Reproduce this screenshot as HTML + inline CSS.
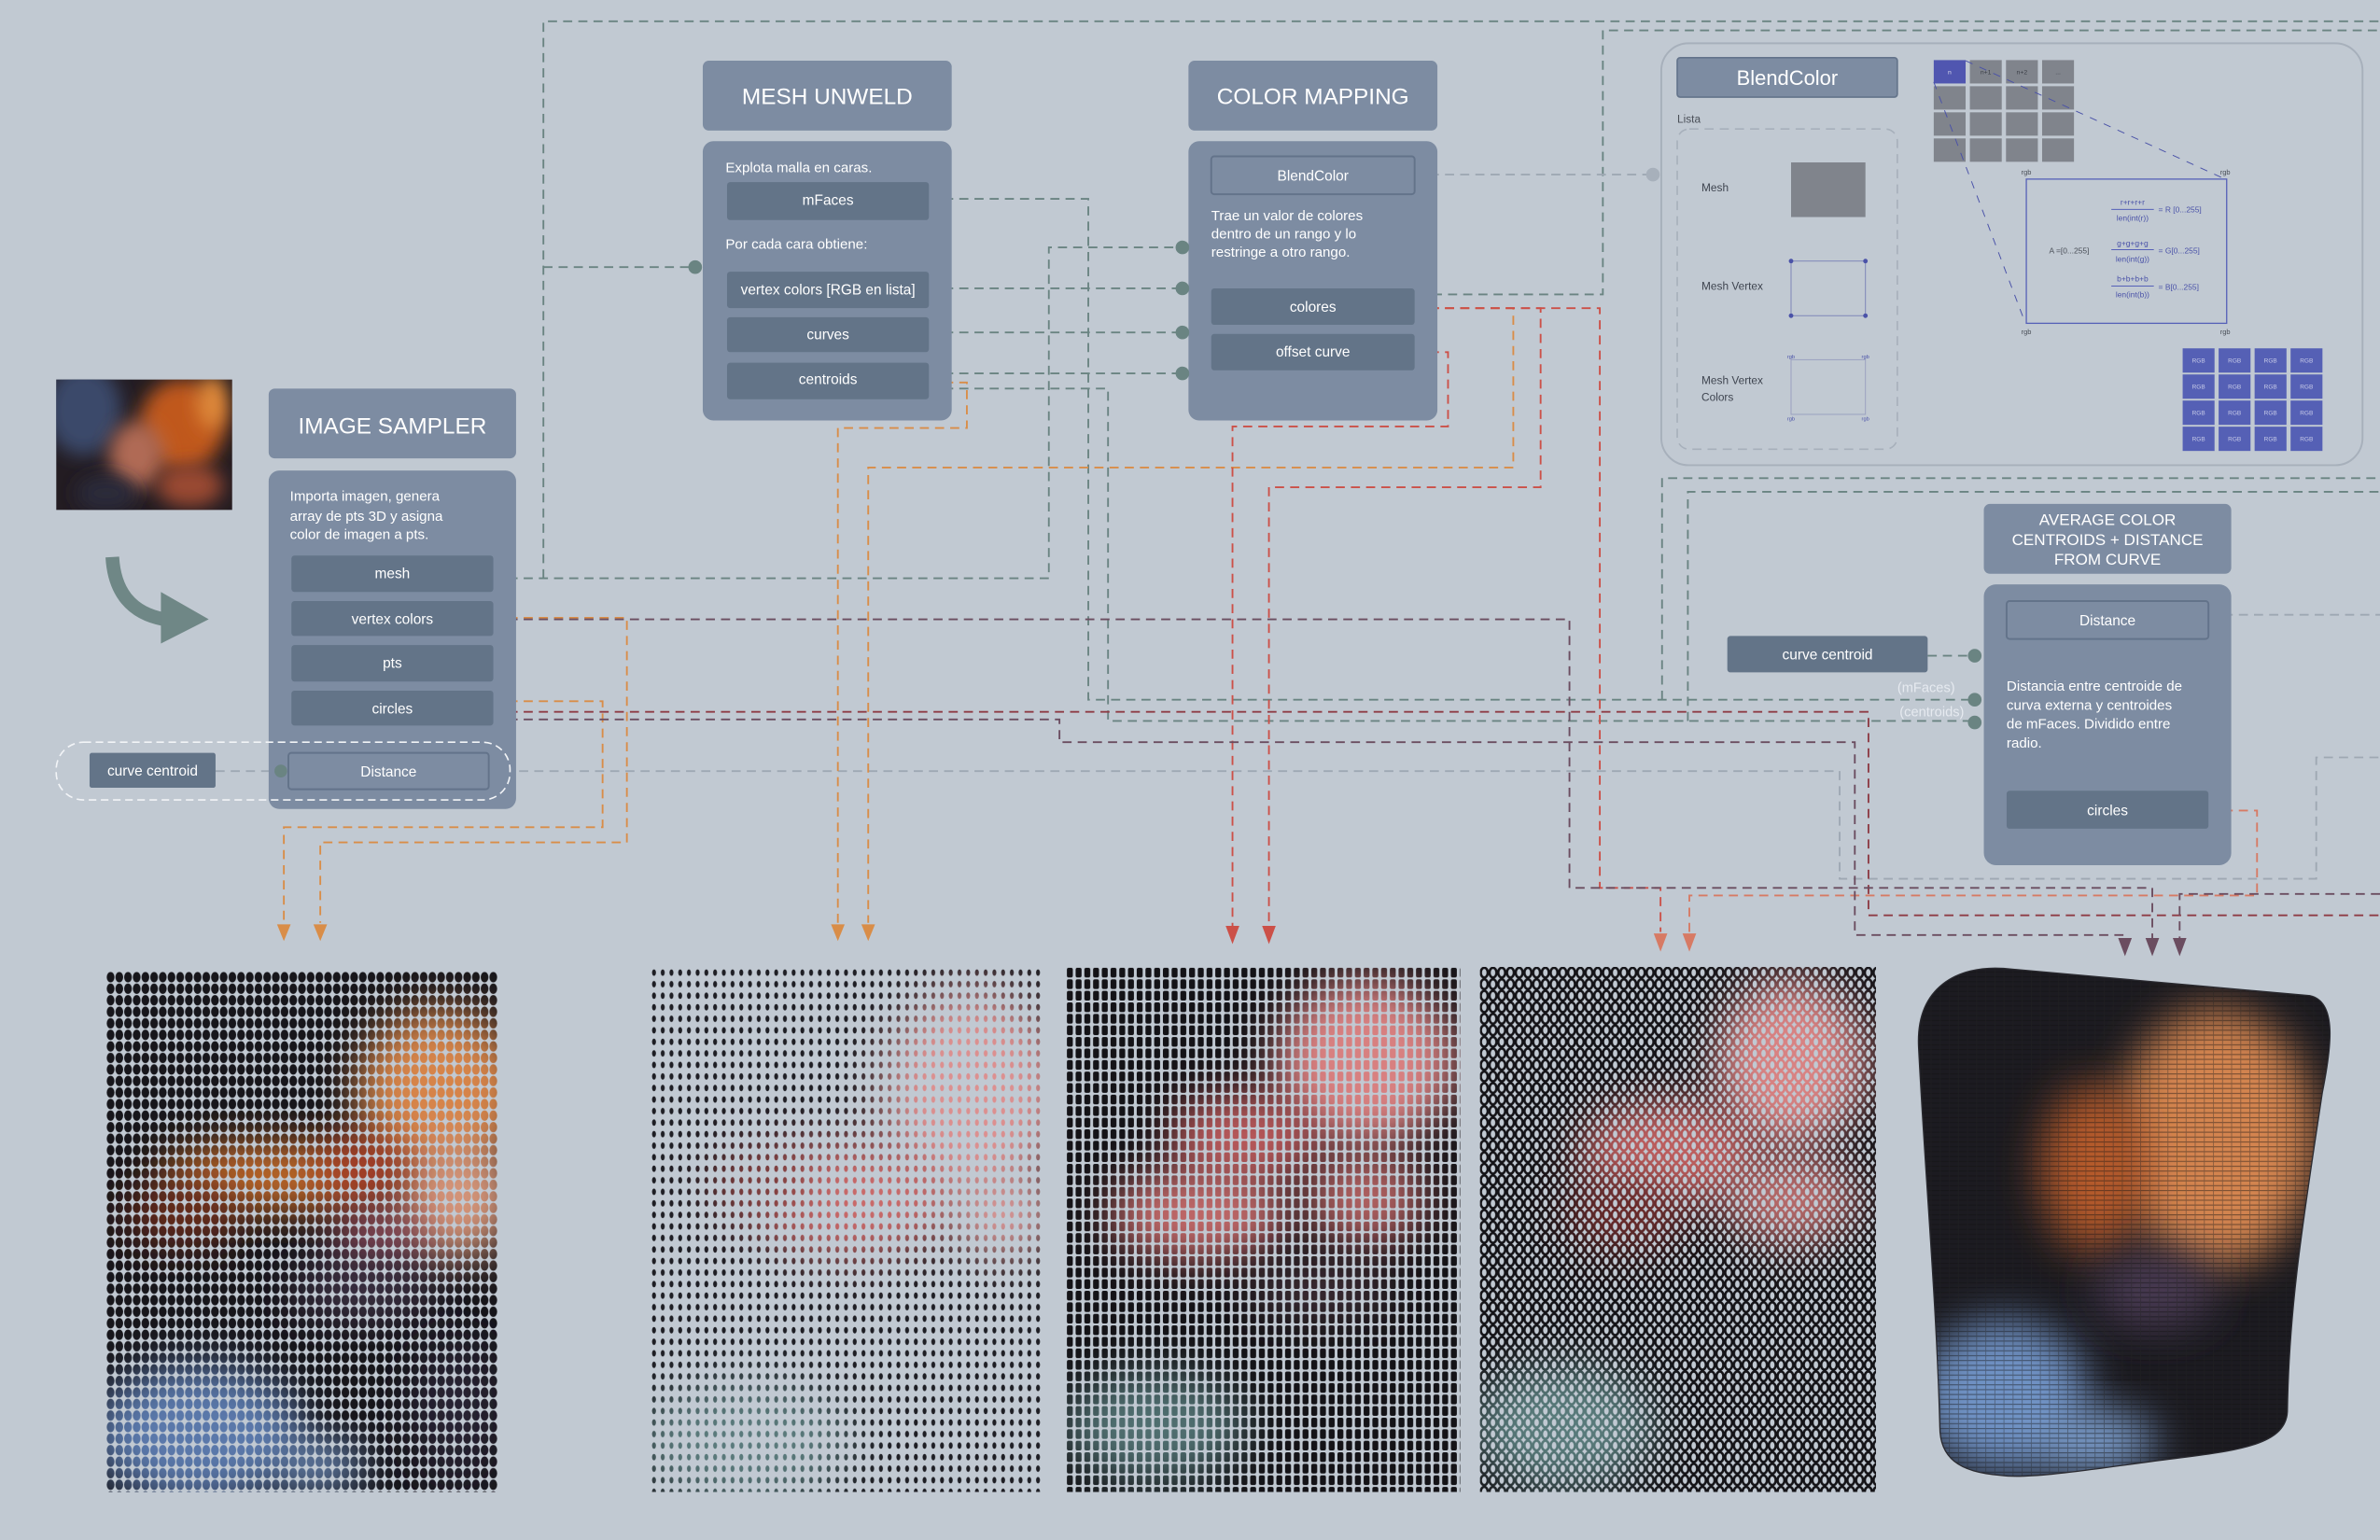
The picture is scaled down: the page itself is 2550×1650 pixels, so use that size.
<!DOCTYPE html>
<html><head><meta charset="utf-8"><style>
html,body{margin:0;padding:0;background:#c1c9d2;}
svg{display:block;}
text{font-family:"Liberation Sans",sans-serif;}
</style></head><body>
<svg width="2550" height="1650" viewBox="0 0 1568 1014.6" xmlns="http://www.w3.org/2000/svg">
<defs>
<filter id="b6" x="-50%" y="-50%" width="200%" height="200%"><feGaussianBlur stdDeviation="6"/></filter>
<filter id="b14" x="-50%" y="-50%" width="200%" height="200%"><feGaussianBlur stdDeviation="14"/></filter>
<pattern id="p1" patternUnits="userSpaceOnUse" x="70" y="640" width="5.73" height="7.6"><ellipse cx="2.86" cy="3.8" rx="2.55" ry="3.4" fill="#fff"/></pattern>
<pattern id="p2" patternUnits="userSpaceOnUse" x="428" y="637" width="5.75" height="7.6"><ellipse cx="2.87" cy="3.8" rx="1.3" ry="2.1" fill="#fff"/></pattern>
<pattern id="p3" patternUnits="userSpaceOnUse" x="702" y="637" width="5.75" height="7.6"><rect x="0.9" y="0.6" width="3.9" height="6.4" rx="1.2" fill="#fff"/></pattern>
<pattern id="p4" patternUnits="userSpaceOnUse" x="975" y="637" width="5.75" height="7.6"><ellipse cx="2.87" cy="3.8" rx="2.3" ry="3.2" fill="none" stroke="#fff" stroke-width="1.6"/></pattern>
<pattern id="p5" patternUnits="userSpaceOnUse" x="0" y="0" width="6" height="3.2"><rect x="0" y="0" width="6" height="0.7" fill="#111"/><rect x="0" y="0" width="0.5" height="3.2" fill="#222"/></pattern>
<mask id="m1" maskUnits="userSpaceOnUse" x="0" y="0" width="1568" height="1015"><rect x="70" y="640" width="258" height="343" fill="url(#p1)"/></mask>
<mask id="m2" maskUnits="userSpaceOnUse" x="0" y="0" width="1568" height="1015"><rect x="428" y="637" width="259" height="346" fill="url(#p2)"/></mask>
<mask id="m3" maskUnits="userSpaceOnUse" x="0" y="0" width="1568" height="1015"><rect x="702" y="637" width="260" height="346" fill="url(#p3)"/></mask>
<mask id="m4" maskUnits="userSpaceOnUse" x="0" y="0" width="1568" height="1015"><rect x="975" y="637" width="261" height="346" fill="url(#p4)"/></mask>
<clipPath id="c5"><path d="M1264,690 C1262,650 1290,636 1320,638 C1400,645 1470,652 1522,656 C1540,660 1536,690 1530,720 C1518,800 1508,860 1507,930 C1506,950 1480,955 1440,960 C1390,966 1340,975 1318,972 C1290,970 1278,960 1278,940 C1276,860 1268,770 1264,690 Z"/></clipPath>
<clipPath id="cph"><rect x="37" y="250" width="116" height="86"/></clipPath>
</defs>

<!-- CONNECTORS -->
<g fill="none" stroke-width="1.15" stroke-dasharray="6 4">
<g stroke="#6a8482">
<path d="M358,176 H458"/>
<path d="M358,381 V14 H1568"/>
<path d="M325,381 H691 V163 H779"/>
<path d="M612,131 H717 V461 H1301"/>
<path d="M1095,461 V315 H1568"/>
<path d="M612,190 H779"/>
<path d="M612,219 H779"/>
<path d="M612,246 H779"/>
<path d="M612,256 H730 V475 H1301"/>
<path d="M1112,475 V324 H1568"/>
<path d="M934,194 H1056 V20 H1568"/>
<path d="M1270,432 H1301"/>
</g>
<g stroke="#9ea8b3">
<path d="M932,115 H1089"/>
<path d="M142,508 H190"/>
<path d="M322,508 H1212 V579 H1526 V499 H1568"/>
<path d="M1455,405 H1568"/>
</g>
<g stroke="#d98d48">
<path d="M612,252 H637 V282 H552 V608"/>
<path d="M932,203 H997 V308 H572 V608"/>
<path d="M325,407 H413 V555 H211 V608"/>
<path d="M325,462 H397 V545 H187 V608"/>
</g>
<g stroke="#cc5048">
<path d="M932,203 H1015 V321 H836 V610"/>
<path d="M932,232 H954 V281 H812 V610"/>
<path d="M932,203 H1054 V585 H1094 V614"/>
</g>
<g stroke="#d77a64">
<path d="M1455,534 H1487 V590 H1113 V614"/>
</g>
<g stroke="#8e3c45">
<path d="M325,469 H1231 V603 H1568"/>
</g>
<g stroke="#6b4d60">
<path d="M325,408 H1034 V585 H1418 V618"/>
<path d="M325,474 H698 V489 H1222 V616 H1400 V618"/>
<path d="M1568,589 H1436 V618"/>
</g>
</g>
<!-- arrowheads -->
<g fill="#d98d48"><polygon points="182.5,609 191.5,609 187,620"/><polygon points="206.5,609 215.5,609 211,620"/><polygon points="547.5,609 556.5,609 552,620"/><polygon points="567.5,609 576.5,609 572,620"/></g>
<g fill="#cc5048"><polygon points="807.5,610 816.5,610 812,622"/><polygon points="831.5,610 840.5,610 836,622"/></g>
<g fill="#d77a64"><polygon points="1089.5,615 1098.5,615 1094,627"/><polygon points="1108.5,615 1117.5,615 1113,627"/></g>
<g fill="#6b4d60"><polygon points="1395.5,618 1404.5,618 1400,630"/><polygon points="1413.5,618 1422.5,618 1418,630"/><polygon points="1431.5,618 1440.5,618 1436,630"/></g>

<!-- PHOTO -->
<g clip-path="url(#cph)">
<rect x="37" y="250" width="116" height="86" fill="#231c22"/>
<ellipse cx="55" cy="270" rx="25" ry="30" fill="#3a4a6a" filter="url(#b6)"/>
<ellipse cx="120" cy="280" rx="28" ry="30" fill="#c0581e" filter="url(#b6)"/>
<ellipse cx="90" cy="300" rx="18" ry="22" fill="#b06a55" filter="url(#b6)"/>
<ellipse cx="125" cy="320" rx="22" ry="14" fill="#9a4a30" filter="url(#b6)"/>
<ellipse cx="70" cy="325" rx="20" ry="12" fill="#2a2a3a" filter="url(#b6)"/>
<ellipse cx="140" cy="265" rx="10" ry="18" fill="#e08a3a" filter="url(#b6)"/>
</g>
<!-- Curved arrow -->
<path d="M74,367 Q76,402 108,408" fill="none" stroke="#6f8786" stroke-width="9"/>
<polygon points="106,390 137.5,408 106,424" fill="#6f8786"/>

<!-- IMAGE SAMPLER -->
<rect x="177" y="256" width="163" height="46" rx="4" fill="#7d8ca2"/>
<text x="258.5" y="285.5" font-size="15" fill="#fff" text-anchor="middle">IMAGE SAMPLER</text>
<rect x="177" y="310" width="163" height="223" rx="7" fill="#7d8ca2"/>
<g font-size="9.3" fill="#fff"><text x="191" y="330">Importa imagen, genera</text><text x="191" y="343">array de pts 3D y asigna</text><text x="191" y="355">color de imagen a pts.</text></g>
<g fill="#637488"><rect x="192" y="366" width="133" height="24" rx="2"/><rect x="192" y="396" width="133" height="23" rx="2"/><rect x="192" y="425" width="133" height="24" rx="2"/><rect x="192" y="455" width="133" height="23" rx="2"/></g>
<g font-size="9.5" fill="#fff" text-anchor="middle"><text x="258.5" y="381">mesh</text><text x="258.5" y="411">vertex colors</text><text x="258.5" y="440">pts</text><text x="258.5" y="470">circles</text></g>
<rect x="190" y="496" width="132" height="24" rx="2" fill="#7d8ca2" stroke="#63738a" stroke-width="1.2"/>
<text x="256" y="511.5" font-size="9.5" fill="#fff" text-anchor="middle">Distance</text>
<rect x="37" y="489" width="299" height="38" rx="18" fill="none" stroke="#f2f4f7" stroke-width="1" stroke-dasharray="5 3"/>
<rect x="59" y="496" width="83" height="23" rx="1.5" fill="#637488"/>
<text x="100.5" y="511" font-size="9.5" fill="#fff" text-anchor="middle">curve centroid</text>
<circle cx="185" cy="508" r="4.2" fill="#6a8482"/>

<!-- MESH UNWELD -->
<rect x="463" y="40" width="164" height="46" rx="4" fill="#7d8ca2"/>
<text x="545" y="68.5" font-size="15" fill="#fff" text-anchor="middle">MESH UNWELD</text>
<rect x="463" y="93" width="164" height="184" rx="7" fill="#7d8ca2"/>
<text x="478" y="113.5" font-size="9.3" fill="#fff">Explota malla en caras.</text>
<text x="478" y="164" font-size="9.3" fill="#fff">Por cada cara obtiene:</text>
<g fill="#637488"><rect x="479" y="120" width="133" height="25" rx="2"/><rect x="479" y="179" width="133" height="24" rx="2"/><rect x="479" y="209" width="133" height="23" rx="2"/><rect x="479" y="239" width="133" height="24" rx="2"/></g>
<g font-size="9.5" fill="#fff" text-anchor="middle"><text x="545.5" y="135">mFaces</text><text x="545.5" y="194">vertex colors [RGB en lista]</text><text x="545.5" y="223.5">curves</text><text x="545.5" y="253">centroids</text></g>
<circle cx="458" cy="176" r="4.5" fill="#6a8482"/>

<!-- COLOR MAPPING -->
<rect x="783" y="40" width="164" height="46" rx="4" fill="#7d8ca2"/>
<text x="865" y="68.5" font-size="15" fill="#fff" text-anchor="middle">COLOR MAPPING</text>
<rect x="783" y="93" width="164" height="184" rx="7" fill="#7d8ca2"/>
<rect x="798" y="103" width="134" height="25" rx="2" fill="#7d8ca2" stroke="#63738a" stroke-width="1.2"/>
<text x="865" y="119" font-size="9.5" fill="#fff" text-anchor="middle">BlendColor</text>
<g font-size="9.3" fill="#fff"><text x="798" y="145">Trae un valor de colores</text><text x="798" y="157">dentro de un rango y lo</text><text x="798" y="169">restringe a otro rango.</text></g>
<g fill="#637488"><rect x="798" y="190" width="134" height="24" rx="2"/><rect x="798" y="220" width="134" height="24" rx="2"/></g>
<g font-size="9.5" fill="#fff" text-anchor="middle"><text x="865" y="205.5">colores</text><text x="865" y="235">offset curve</text></g>
<g fill="#6a8482"><circle cx="779" cy="163" r="4.5"/><circle cx="779" cy="190" r="4.5"/><circle cx="779" cy="219" r="4.5"/><circle cx="779" cy="246" r="4.5"/></g>

<!-- BLENDCOLOR PANEL -->
<rect x="1094.5" y="28.5" width="462" height="278" rx="18" fill="none" stroke="#a7b0bb" stroke-width="1.2"/>
<circle cx="1089" cy="115" r="4.5" fill="#a7b0bb"/>
<rect x="1105" y="38" width="145" height="26" rx="2" fill="#7d8ca2" stroke="#63738a" stroke-width="1"/>
<text x="1177.5" y="56" font-size="13.5" fill="#fff" text-anchor="middle">BlendColor</text>
<text x="1105" y="81" font-size="7.3" fill="#4a4f58">Lista</text>
<rect x="1105" y="85" width="145" height="211" rx="8" fill="none" stroke="#a7b0bb" stroke-width="1" stroke-dasharray="6 4"/>
<g font-size="7.3" fill="#3f4550"><text x="1121" y="126">Mesh</text><text x="1121" y="191">Mesh Vertex</text><text x="1121" y="253">Mesh Vertex</text><text x="1121" y="264">Colors</text></g>
<rect x="1180" y="107" width="49" height="36" fill="#80848c"/>
<rect x="1180" y="172" width="49" height="36" fill="none" stroke="#7d85b8" stroke-width="0.6"/>
<g fill="#4a52a8"><circle cx="1180" cy="172" r="1.5"/><circle cx="1229" cy="172" r="1.5"/><circle cx="1180" cy="208" r="1.5"/><circle cx="1229" cy="208" r="1.5"/></g>
<rect x="1180" y="237" width="49" height="36" fill="none" stroke="#9aa0c0" stroke-width="0.6"/>
<g font-size="3.5" fill="#4a52a8" text-anchor="middle"><text x="1180" y="236">rgb</text><text x="1229" y="236">rgb</text><text x="1180" y="277">rgb</text><text x="1229" y="277">rgb</text></g>
<!-- grid -->
<g fill="#80848c">
<rect x="1274" y="39.6" width="21" height="15.4" fill="#5056b0"/><rect x="1297.8" y="39.6" width="21" height="15.4"/><rect x="1321.6" y="39.6" width="21" height="15.4"/><rect x="1345.4" y="39.6" width="21" height="15.4"/>
<rect x="1274" y="56.8" width="21" height="15.4"/><rect x="1297.8" y="56.8" width="21" height="15.4"/><rect x="1321.6" y="56.8" width="21" height="15.4"/><rect x="1345.4" y="56.8" width="21" height="15.4"/>
<rect x="1274" y="74" width="21" height="15.4"/><rect x="1297.8" y="74" width="21" height="15.4"/><rect x="1321.6" y="74" width="21" height="15.4"/><rect x="1345.4" y="74" width="21" height="15.4"/>
<rect x="1274" y="91.2" width="21" height="15.4"/><rect x="1297.8" y="91.2" width="21" height="15.4"/><rect x="1321.6" y="91.2" width="21" height="15.4"/><rect x="1345.4" y="91.2" width="21" height="15.4"/>
</g>
<g font-size="4.2" text-anchor="middle" fill="#3a3e46"><text x="1284.5" y="49" fill="#dde">n</text><text x="1308.3" y="49">n+1</text><text x="1332.1" y="49">n+2</text><text x="1355.9" y="49">...</text></g>
<g fill="none" stroke="#4a52a8" stroke-width="0.6" stroke-dasharray="5 5"><path d="M1295,40 L1466,118"/><path d="M1274,54 L1334,212"/></g>
<rect x="1335" y="118" width="132" height="95" fill="none" stroke="#5560b8" stroke-width="0.8"/>
<g font-size="4.6" fill="#4a4f58" text-anchor="middle"><text x="1335" y="115">rgb</text><text x="1466" y="115">rgb</text><text x="1335" y="220">rgb</text><text x="1466" y="220">rgb</text></g>
<g font-size="5.2" fill="#4a52a8">
<text x="1405" y="135" text-anchor="middle">r+r+r+r</text><line x1="1391" y1="138" x2="1419" y2="138" stroke="#5560b8" stroke-width="0.6"/><text x="1405" y="145.5" text-anchor="middle">len(int(r))</text><text x="1422" y="140">=  R [0...255]</text>
<text x="1405" y="162" text-anchor="middle">g+g+g+g</text><line x1="1391" y1="164.5" x2="1419" y2="164.5" stroke="#5560b8" stroke-width="0.6"/><text x="1405" y="172.5" text-anchor="middle">len(int(g))</text><text x="1422" y="167">=  G[0...255]</text>
<text x="1405" y="185.5" text-anchor="middle">b+b+b+b</text><line x1="1391" y1="188.5" x2="1419" y2="188.5" stroke="#5560b8" stroke-width="0.6"/><text x="1405" y="196" text-anchor="middle">len(int(b))</text><text x="1422" y="191">=  B[0...255]</text>
</g>
<text x="1350" y="167" font-size="5.2" fill="#4a4f58">A =[0...255]</text>
<!-- RGB grid -->
<g fill="#5560b5">
<rect x="1438" y="229.5" width="21" height="16"/><rect x="1461.7" y="229.5" width="21" height="16"/><rect x="1485.4" y="229.5" width="21" height="16"/><rect x="1509.1" y="229.5" width="21" height="16"/>
<rect x="1438" y="246.7" width="21" height="16"/><rect x="1461.7" y="246.7" width="21" height="16"/><rect x="1485.4" y="246.7" width="21" height="16"/><rect x="1509.1" y="246.7" width="21" height="16"/>
<rect x="1438" y="263.9" width="21" height="16"/><rect x="1461.7" y="263.9" width="21" height="16"/><rect x="1485.4" y="263.9" width="21" height="16"/><rect x="1509.1" y="263.9" width="21" height="16"/>
<rect x="1438" y="281.1" width="21" height="16"/><rect x="1461.7" y="281.1" width="21" height="16"/><rect x="1485.4" y="281.1" width="21" height="16"/><rect x="1509.1" y="281.1" width="21" height="16"/>
</g>
<g font-size="4" fill="#c8cbe8" text-anchor="middle">
<text x="1448.5" y="239">RGB</text><text x="1472.2" y="239">RGB</text><text x="1495.9" y="239">RGB</text><text x="1519.6" y="239">RGB</text>
<text x="1448.5" y="256.2">RGB</text><text x="1472.2" y="256.2">RGB</text><text x="1495.9" y="256.2">RGB</text><text x="1519.6" y="256.2">RGB</text>
<text x="1448.5" y="273.4">RGB</text><text x="1472.2" y="273.4">RGB</text><text x="1495.9" y="273.4">RGB</text><text x="1519.6" y="273.4">RGB</text>
<text x="1448.5" y="290.6">RGB</text><text x="1472.2" y="290.6">RGB</text><text x="1495.9" y="290.6">RGB</text><text x="1519.6" y="290.6">RGB</text>
</g>

<!-- AVERAGE COLOR -->
<rect x="1307" y="332" width="163" height="46" rx="4" fill="#7d8ca2"/>
<g font-size="10.5" fill="#fff" text-anchor="middle"><text x="1388.5" y="346">AVERAGE COLOR</text><text x="1388.5" y="359">CENTROIDS  + DISTANCE</text><text x="1388.5" y="372">FROM CURVE</text></g>
<rect x="1307" y="385" width="163" height="185" rx="8" fill="#7d8ca2"/>
<rect x="1322" y="396" width="133" height="25" rx="2" fill="#7d8ca2" stroke="#63738a" stroke-width="1.2"/>
<text x="1388.5" y="412" font-size="9.5" fill="#fff" text-anchor="middle">Distance</text>
<g font-size="9.3" fill="#fff"><text x="1322" y="455">Distancia entre centroide de</text><text x="1322" y="467.5">curva externa y centroides</text><text x="1322" y="480">de mFaces. Dividido entre</text><text x="1322" y="492.5">radio.</text></g>
<rect x="1322" y="521" width="133" height="25" rx="2" fill="#637488"/>
<text x="1388.5" y="537" font-size="9.5" fill="#fff" text-anchor="middle">circles</text>
<rect x="1138" y="419" width="132" height="24" rx="2" fill="#637488"/>
<text x="1204" y="434.5" font-size="9.5" fill="#fff" text-anchor="middle">curve centroid</text>
<g font-size="9" fill="#e6eaf0" text-anchor="end"><text x="1288" y="456">(mFaces)</text><text x="1294" y="472">(centroids)</text></g>
<g fill="#6a8482"><circle cx="1301" cy="432" r="4.5"/><circle cx="1301" cy="461" r="4.5"/><circle cx="1301" cy="476" r="4.5"/></g>

<!-- PANEL 1 -->
<g mask="url(#m1)">
<rect x="70" y="640" width="258" height="343" fill="#17161b"/>
<ellipse cx="290" cy="720" rx="55" ry="55" fill="#d68448" filter="url(#b14)"/>
<ellipse cx="300" cy="790" rx="40" ry="40" fill="#d49478" filter="url(#b14)"/>
<ellipse cx="180" cy="775" rx="75" ry="22" fill="#c26a2c" filter="url(#b14)"/>
<ellipse cx="240" cy="770" rx="30" ry="20" fill="#a83a28" filter="url(#b14)"/>
<ellipse cx="250" cy="815" rx="35" ry="15" fill="#9a5060" filter="url(#b14)"/>
<ellipse cx="120" cy="800" rx="40" ry="20" fill="#6a2a1a" filter="url(#b14)"/>
<ellipse cx="240" cy="850" rx="50" ry="18" fill="#3e3045" filter="url(#b14)"/>
<ellipse cx="130" cy="945" rx="70" ry="45" fill="#5a78aa" filter="url(#b14)"/>
<ellipse cx="210" cy="965" rx="30" ry="15" fill="#7090c0" filter="url(#b14)"/>
<ellipse cx="300" cy="930" rx="30" ry="50" fill="#252030" filter="url(#b14)"/>
</g>
<!-- PANEL 2 -->
<g mask="url(#m2)">
<rect x="428" y="637" width="259" height="346" fill="#1e1e24"/>
<ellipse cx="640" cy="720" rx="60" ry="70" fill="#dc9090" filter="url(#b14)"/>
<ellipse cx="560" cy="790" rx="70" ry="40" fill="#c96a6a" filter="url(#b14)"/>
<ellipse cx="660" cy="800" rx="35" ry="30" fill="#d89898" filter="url(#b14)"/>
<ellipse cx="500" cy="780" rx="35" ry="25" fill="#7a3a3a" filter="url(#b14)"/>
<ellipse cx="490" cy="950" rx="70" ry="40" fill="#5a7a7c" filter="url(#b14)"/>
</g>
<!-- PANEL 3 -->
<g mask="url(#m3)">
<rect x="702" y="637" width="260" height="346" fill="#141317"/>
<ellipse cx="900" cy="700" rx="60" ry="55" fill="#d88080" filter="url(#b14)"/>
<ellipse cx="820" cy="750" rx="50" ry="30" fill="#b8585a" filter="url(#b14)"/>
<ellipse cx="790" cy="800" rx="60" ry="30" fill="#c06868" filter="url(#b14)"/>
<ellipse cx="900" cy="790" rx="40" ry="30" fill="#b06060" filter="url(#b14)"/>
<ellipse cx="870" cy="850" rx="50" ry="20" fill="#3a2a30" filter="url(#b14)"/>
<ellipse cx="760" cy="940" rx="60" ry="35" fill="#506e70" filter="url(#b14)"/>
</g>
<!-- PANEL 4 -->
<g mask="url(#m4)">
<rect x="975" y="637" width="261" height="346" fill="#141317"/>
<ellipse cx="1180" cy="700" rx="50" ry="55" fill="#d88282" filter="url(#b14)"/>
<ellipse cx="1100" cy="760" rx="60" ry="35" fill="#c06060" filter="url(#b14)"/>
<ellipse cx="1180" cy="790" rx="45" ry="30" fill="#b86a6a" filter="url(#b14)"/>
<ellipse cx="1070" cy="800" rx="40" ry="25" fill="#6a2a2a" filter="url(#b14)"/>
<ellipse cx="1030" cy="940" rx="60" ry="40" fill="#587a7a" filter="url(#b14)"/>
</g>
<!-- PANEL 5 -->
<g clip-path="url(#c5)">
<rect x="1255" y="630" width="290" height="350" fill="#1c1b21"/>
<ellipse cx="1460" cy="750" rx="65" ry="85" fill="#d38450" filter="url(#b14)"/>
<ellipse cx="1380" cy="770" rx="35" ry="55" fill="#b55a2c" filter="url(#b14)"/>
<ellipse cx="1420" cy="850" rx="40" ry="25" fill="#4a3a52" filter="url(#b14)"/>
<ellipse cx="1320" cy="920" rx="55" ry="50" fill="#6f92c4" filter="url(#b14)"/>
<ellipse cx="1380" cy="950" rx="40" ry="20" fill="#7ea0d0" filter="url(#b14)"/>
<rect x="1255" y="630" width="290" height="350" fill="url(#p5)" opacity="0.45"/>
</g>
<path d="M1264,690 C1262,650 1290,636 1320,638 C1400,645 1470,652 1522,656 C1540,660 1536,690 1530,720 C1518,800 1508,860 1507,930 C1506,950 1480,955 1440,960 C1390,966 1340,975 1318,972 C1290,970 1278,960 1278,940 C1276,860 1268,770 1264,690 Z" fill="none" stroke="#2a2a30" stroke-width="0.8"/>
</svg>
</body></html>
